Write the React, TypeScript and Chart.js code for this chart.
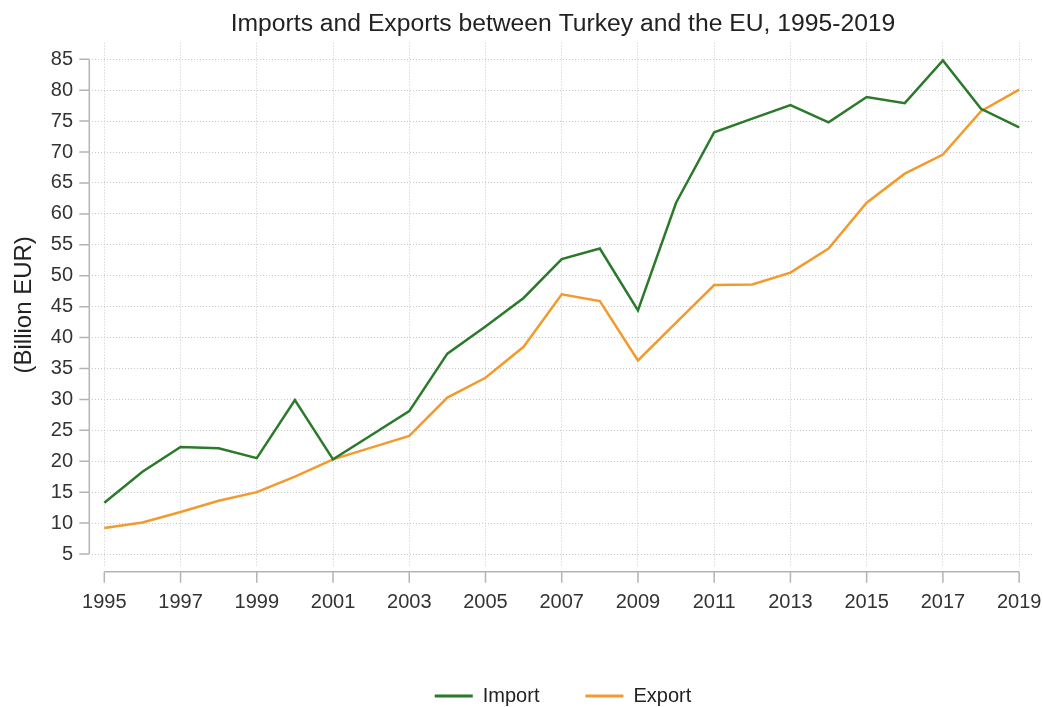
import React, { useEffect, useRef } from "react";
import { Chart, registerables } from "chart.js";

Chart.register(...registerables);

const chartTitle = "Imports and Exports between Turkey and the EU, 1995-2019";
const yAxisTitle = "(Billion EUR)";
const seriesNames = ["Import", "Export"];
const years = [
  1995, 1996, 1997, 1998, 1999, 2000, 2001, 2002, 2003, 2004, 2005, 2006, 2007,
  2008, 2009, 2010, 2011, 2012, 2013, 2014, 2015, 2016, 2017, 2018, 2019,
];
const importValues = [
  13.3, 18.3, 22.3, 22.1, 20.5, 29.9, 20.3, 24.2, 28.1, 37.4, 41.8, 46.4, 52.7,
  54.4, 44.4, 61.8, 73.2, 75.4, 77.6, 74.8, 78.9, 77.9, 84.8, 77.0, 74.0,
];
const exportValues = [
  9.2, 10.1, 11.8, 13.6, 15.0, 17.5, 20.3, 22.2, 24.1, 30.3, 33.5, 38.5, 47.0,
  45.9, 36.3, 42.4, 48.5, 48.6, 50.5, 54.4, 61.8, 66.5, 69.6, 76.6, 80.1,
];
const xTickYears = [1995, 1997, 1999, 2001, 2003, 2005, 2007, 2009, 2011, 2013, 2015, 2017, 2019];
const yTickValues = [5, 10, 15, 20, 25, 30, 35, 40, 45, 50, 55, 60, 65, 70, 75, 80, 85];

const importColor = "#2b7a2b";
const exportColor = "#f39a2d";
const FONT = "'Liberation Sans', Arial, sans-serif";
const CANVAS_W = 1043;
const CANVAS_H = 716;
const LEGEND_PAD = 46;

const axisLinesPlugin = {
  id: "axisLines",
  afterDraw(chart: any) {
    const { ctx, scales } = chart;
    const x = scales.x;
    const y = scales.y;
    ctx.save();
    ctx.strokeStyle = "#b4b4b4";
    ctx.lineWidth = 1.5;
    ctx.beginPath();
    const ax = chart.chartArea.left - 2.7;
    const yTop = y.getPixelForValue(yTickValues[yTickValues.length - 1]);
    const yBot = y.getPixelForValue(yTickValues[0]);
    ctx.moveTo(ax, yTop);
    ctx.lineTo(ax, yBot);
    for (const v of yTickValues) {
      const py = y.getPixelForValue(v);
      ctx.moveTo(ax - 10, py);
      ctx.lineTo(ax, py);
    }
    const ay = chart.chartArea.bottom + 4.7;
    const xL = x.getPixelForValue(xTickYears[0]);
    const xR = x.getPixelForValue(xTickYears[xTickYears.length - 1]);
    ctx.moveTo(xL, ay);
    ctx.lineTo(xR, ay);
    for (const v of xTickYears) {
      const px = x.getPixelForValue(v);
      ctx.moveTo(px, ay);
      ctx.lineTo(px, ay + 11);
    }
    ctx.stroke();
    ctx.restore();
  },
};

export default function App() {
  const canvasRef = useRef<HTMLCanvasElement | null>(null);

  useEffect(() => {
    if (!canvasRef.current) return;
    Chart.defaults.font.family = FONT;
    const defaultLabels = (Chart.defaults as any).plugins.legend.labels.generateLabels;
    const chart = new Chart(canvasRef.current, {
      type: "line",
      data: {
        datasets: [
          {
            label: seriesNames[0],
            data: years.map((yr, i) => ({ x: yr, y: importValues[i] })),
            borderColor: importColor,
            backgroundColor: importColor,
            borderWidth: 2.5,
            pointRadius: 0,
            tension: 0,
            fill: false,
          },
          {
            label: seriesNames[1],
            data: years.map((yr, i) => ({ x: yr, y: exportValues[i] })),
            borderColor: exportColor,
            backgroundColor: exportColor,
            borderWidth: 2.5,
            pointRadius: 0,
            tension: 0,
            fill: false,
          },
        ],
      },
      options: {
        animation: false,
        responsive: false,
        devicePixelRatio: 1,
        layout: { padding: { left: 0, right: CANVAS_W - 1034, top: 0, bottom: 0 } },
        scales: {
          x: {
            type: "linear",
            min: 1994.677,
            max: 2019.39,
            afterBuildTicks: (scale: any) => {
              scale.ticks = xTickYears.map((v) => ({ value: v }));
            },
            afterFit: (scale: any) => {
              scale.height = CANVAS_H - (30 + LEGEND_PAD) - 567;
              scale.paddingLeft = 0;
              scale.paddingRight = 0;
            },
            ticks: {
              callback: (v: any) => String(v),
              color: "#333",
              font: { size: 20, family: FONT },
              padding: 23,
              maxRotation: 0,
              autoSkip: false,
            },
            grid: { color: "#c8c8c8", lineWidth: 1, drawTicks: false },
            border: { display: false, dash: [1, 2] },
          },
          y: {
            type: "linear",
            min: 2.9,
            max: 87.69,
            afterBuildTicks: (scale: any) => {
              scale.ticks = yTickValues.map((v) => ({ value: v }));
            },
            afterFit: (scale: any) => {
              scale.width = 92;
              scale.paddingTop = 0;
              scale.paddingBottom = 0;
            },
            ticks: {
              callback: (v: any) => String(v),
              color: "#333",
              font: { size: 20, family: FONT },
              padding: 19,
              autoSkip: false,
            },
            grid: { color: "#c8c8c8", lineWidth: 1, drawTicks: false },
            border: { display: false, dash: [1, 2] },
            title: {
              display: true,
              text: yAxisTitle,
              color: "#222",
              font: { size: 24, family: FONT },
              padding: { top: 10, bottom: 0 },
            },
          },
        },
        plugins: {
          title: {
            display: true,
            text: chartTitle,
            fullSize: false,
            color: "#222",
            font: { size: 24.7, weight: "normal", family: FONT },
            padding: { top: 9, bottom: 4 },
          },
          legend: {
            display: true,
            position: "bottom",
            fullSize: false,
            labels: {
              color: "#222",
              font: { size: 20, family: FONT },
              boxWidth: 38,
              boxHeight: 3,
              padding: LEGEND_PAD,
              generateLabels: (c: any) =>
                defaultLabels(c).map((l: any) => ({ ...l, lineWidth: 0 })),
            },
          },
          tooltip: { enabled: false },
        },
      },
      plugins: [axisLinesPlugin],
    } as any);
    return () => chart.destroy();
  }, []);

  return (
    <div
      style={{
        position: "fixed",
        left: 0,
        top: 0,
        width: CANVAS_W,
        height: 707,
        overflow: "hidden",
        background: "#fff",
      }}
    >
      <canvas
        ref={canvasRef}
        width={CANVAS_W}
        height={CANVAS_H}
        style={{ display: "block", width: CANVAS_W, height: CANVAS_H }}
      />
    </div>
  );
}
